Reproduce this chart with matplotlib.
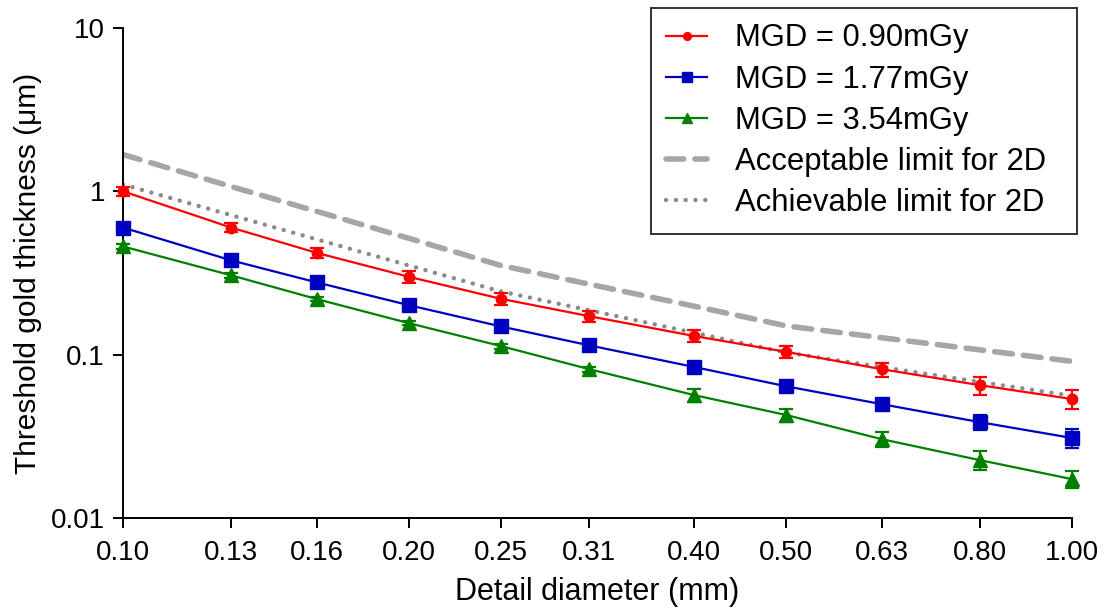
#!/usr/bin/env python3
"""Threshold gold thickness vs detail diameter (log-log)."""

import matplotlib as mpl
mpl.use("Agg")
import matplotlib.pyplot as plt
from matplotlib.lines import Line2D
from matplotlib.ticker import FixedLocator, FixedFormatter, NullLocator

mpl.rcParams.update({
    "font.family": ["Liberation Sans", "DejaVu Sans"],
    "font.size": 20,
    "axes.linewidth": 1.4,
})

# detail diameters (mm)
diameters = [0.10, 0.13, 0.16, 0.20, 0.25, 0.31, 0.40, 0.50, 0.63, 0.80, 1.00]
x_tick_labels = ["0.10", "0.13", "0.16", "0.20", "0.25", "0.31",
                 "0.40", "0.50", "0.63", "0.80", "1.00"]

# threshold gold thickness (um) per dose level, with error bars
mgd_090 = [1.00, 0.60, 0.42, 0.30, 0.22, 0.172, 0.130, 0.104, 0.0815, 0.065, 0.0535]
mgd_090_err = [0.06, 0.04, 0.03, 0.025, 0.018, 0.014, 0.011, 0.009, 0.008, 0.008, 0.007]
mgd_177 = [0.60, 0.378, 0.277, 0.201, 0.149, 0.114, 0.084, 0.064, 0.0498, 0.0386, 0.0309]
mgd_177_err = [0.02, 0.01, 0.008, 0.006, 0.004, 0.003, 0.003, 0.003, 0.004, 0.004, 0.004]
mgd_354 = [0.46, 0.306, 0.219, 0.156, 0.113, 0.0815, 0.0565, 0.0427, 0.0304, 0.0226, 0.0173]
mgd_354_err = [0.015, 0.01, 0.007, 0.005, 0.004, 0.003, 0.005, 0.004, 0.003, 0.003, 0.002]

# 2D limits
acceptable = [1.68, 1.07, 0.754, 0.516, 0.352, 0.270, 0.198, 0.150, 0.127, 0.107, 0.091]
achievable = [1.10, 0.715, 0.508, 0.352, 0.244, 0.187, 0.136, 0.103, 0.084, 0.068, 0.056]

fig = plt.figure(figsize=(11.06, 6.13), dpi=100)
ax = fig.add_axes([123 / 1106, 1 - 518 / 613, (1072 - 123) / 1106, (518 - 28) / 613])

acc_style = dict(color="#a6a6aa", lw=4.0, ls=(0, (3.2, 2.0)), dash_capstyle="round")
ach_style = dict(color="#8a8a8a", lw=3.2, ls=(0, (0.01, 2.2)), dash_capstyle="round")
ax.plot(diameters, acceptable, zorder=1, **acc_style)
ax.plot(diameters, achievable, zorder=1, **ach_style)

series = [
    (mgd_090, mgd_090_err, "#ff0000", "o", 7.5, "MGD = 0.90mGy"),
    (mgd_177, mgd_177_err, "#0000c0", "s", 10, "MGD = 1.77mGy"),
    (mgd_354, mgd_354_err, "#008000", "^", 10, "MGD = 3.54mGy"),
]
handles, labels = [], []
for vals, errs, col, mk, ms, lab in series:
    ax.errorbar(diameters, vals, yerr=errs, color=col, marker=mk, ms=ms,
                lw=1.6, elinewidth=1.6, capsize=5, capthick=1.6,
                zorder=3, clip_on=False)
    handles.append(Line2D([], [], color=col, marker=mk, ms=ms * 0.75, lw=1.6))
    labels.append(lab)
handles.append(Line2D([], [], **acc_style))
labels.append("Acceptable limit for 2D")
handles.append(Line2D([], [], **ach_style))
labels.append("Achievable limit for 2D")

ax.set_xscale("log")
ax.set_yscale("log")
ax.set_xlim(0.1, 1.0)
ax.set_ylim(0.01, 10)

ax.xaxis.set_major_locator(FixedLocator(diameters))
ax.xaxis.set_major_formatter(FixedFormatter(x_tick_labels))
ax.xaxis.set_minor_locator(NullLocator())
ax.yaxis.set_major_locator(FixedLocator([0.01, 0.1, 1, 10]))
ax.yaxis.set_major_formatter(FixedFormatter(["0.01", "0.1", "1", "10"]))
ax.yaxis.set_minor_locator(NullLocator())

ax.spines["top"].set_visible(False)
ax.spines["right"].set_visible(False)
ax.tick_params(axis="both", direction="out", length=7, width=1.4, labelsize=20)
ax.tick_params(axis="x", pad=9)
ax.tick_params(axis="y", pad=6)

ax.set_xlabel("Detail diameter (mm)", fontsize=22, labelpad=8)
ax.set_ylabel("Threshold gold thickness (\u03bcm)", fontsize=21.5, labelpad=6)

# legend box spans x 651..1077 px, top at 8 px
leg = fig.legend(handles, labels, loc="upper left", mode="expand",
                 bbox_to_anchor=(651 / 1106, 1 - 8 / 613, (1077 - 651) / 1106, 0),
                 fontsize=22.3, frameon=True, fancybox=False, handlelength=1.3,
                 borderaxespad=0, borderpad=0.5, labelspacing=0.36,
                 handletextpad=0.9)
leg.get_frame().set_edgecolor("black")
leg.get_frame().set_linewidth(1.4)

fig.savefig("out.png", dpi=100)
